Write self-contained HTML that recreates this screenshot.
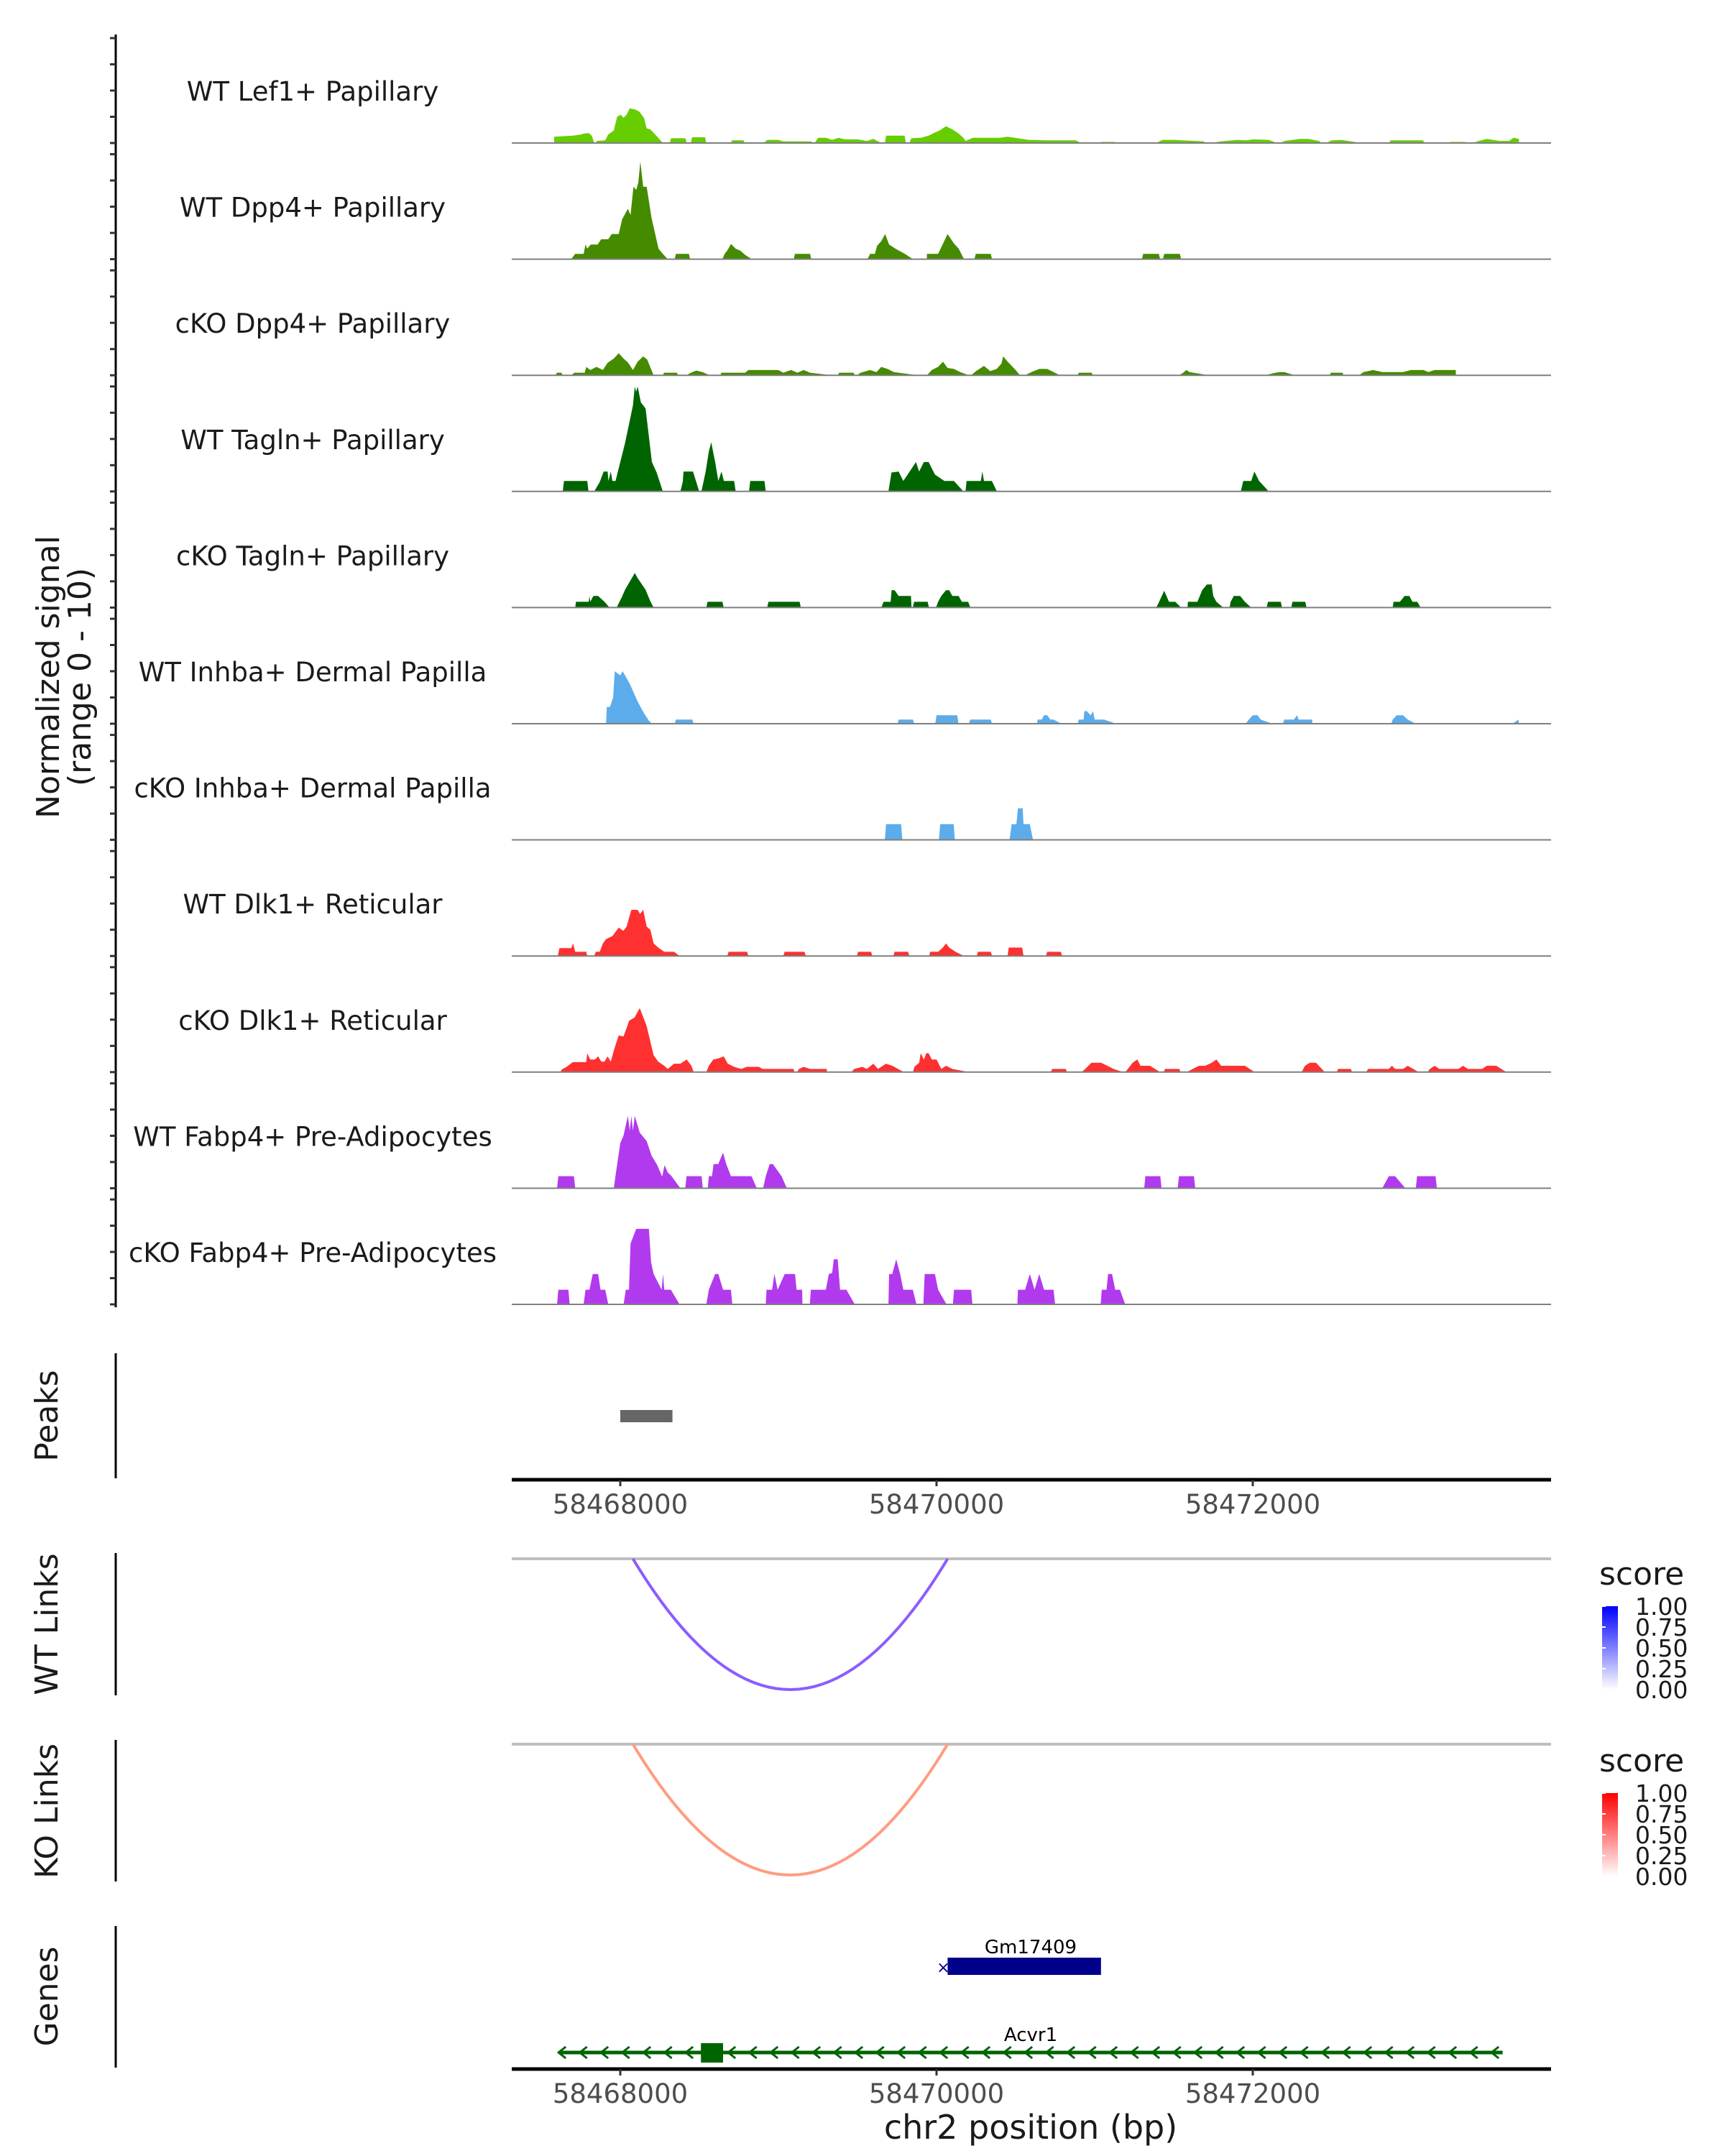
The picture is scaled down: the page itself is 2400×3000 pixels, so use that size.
<!DOCTYPE html>
<html><head><meta charset="utf-8"><style>
html,body{margin:0;padding:0;background:#fff;}
svg{display:block;font-family:"DejaVu Sans","Liberation Sans",sans-serif;}
</style></head><body>
<svg id="chart" width="2400" height="3000" viewBox="0 0 2400 3000" xmlns="http://www.w3.org/2000/svg">
<g id="tracks"></g>
<g id="yaxis"></g>
<text transform="translate(82,942) rotate(-90)" text-anchor="middle" font-size="44" fill="#1a1a1a">Normalized signal</text>
<text transform="translate(126,942) rotate(-90)" text-anchor="middle" font-size="44" fill="#1a1a1a">(range 0 - 10)</text>
<line x1="161" y1="1883" x2="161" y2="2057" stroke="#000" stroke-width="3"/>
<text transform="translate(80,1970) rotate(-90)" text-anchor="middle" font-size="44" fill="#1a1a1a">Peaks</text>
<g id="peaks"></g>
<g id="xaxis1"></g>
<line x1="161" y1="2161" x2="161" y2="2359" stroke="#000" stroke-width="3"/>
<text transform="translate(80,2260) rotate(-90)" text-anchor="middle" font-size="44" fill="#1a1a1a">WT Links</text>
<line x1="161" y1="2421" x2="161" y2="2618" stroke="#000" stroke-width="3"/>
<text transform="translate(80,2520) rotate(-90)" text-anchor="middle" font-size="44" fill="#1a1a1a">KO Links</text>
<g id="links"></g>
<defs>
<linearGradient id="gBlue" x1="0" y1="1" x2="0" y2="0"><stop offset="0" stop-color="#ffffff"/><stop offset="1" stop-color="#0000ff"/></linearGradient>
<linearGradient id="gRed" x1="0" y1="1" x2="0" y2="0"><stop offset="0" stop-color="#ffffff"/><stop offset="1" stop-color="#ff0000"/></linearGradient>
</defs>
<g id="legends"></g>
<line x1="161" y1="2680" x2="161" y2="2877" stroke="#000" stroke-width="3"/>
<text transform="translate(80,2778) rotate(-90)" text-anchor="middle" font-size="44" fill="#1a1a1a">Genes</text>
<g id="genes"></g>
<g id="xaxis2"></g>
<text x="1434" y="2976" text-anchor="middle" font-size="46" fill="#1a1a1a">chr2 position (bp)</text>
</svg>
<script>
// bp offsets relative to 58468000; values in normalized signal (0-10)
const trackNames = ["WT Lef1+ Papillary","WT Dpp4+ Papillary","cKO Dpp4+ Papillary","WT Tagln+ Papillary","cKO Tagln+ Papillary","WT Inhba+ Dermal Papilla","cKO Inhba+ Dermal Papilla","WT Dlk1+ Reticular","cKO Dlk1+ Reticular","WT Fabp4+ Pre-Adipocytes","cKO Fabp4+ Pre-Adipocytes"];
const trackColors = ["#66cd00","#458b00","#458b00","#006400","#006400","#5caceb","#5caceb","#ff3030","#ff3030","#b23aee","#b23aee"];
function blk(a,b,v){return [[a,0],[a+8,v],[b-8,v],[b,0]];}
const track1 = [
 [[-418,0],[-418,0.6],[-300,0.7],[-250,0.8],[-230,0.9],[-200,0.95],[-180,0.7],[-165,0]],
 [[-150,0],[-150,0.2],[-95,0.25],[-77,0.8],[-41,1.2],[-20,2.5],[3,2.7],[20,2.4],[40,2.7],[60,3.3],[92,3.2],[120,3.0],[150,2.4],[167,1.4],[190,1.3],[234,0.6],[269,0]],
 blk(313,420,0.45), blk(446,544,0.55), blk(699,787,0.25),
 [[907,0],[930,0.3],[1000,0.3],[1030,0.15],[1208,0.15],[1215,0]],
 [[1230,0],[1250,0.5],[1300,0.5],[1340,0.3],[1380,0.5],[1420,0.35],[1500,0.35],[1560,0.2],[1600,0.4],[1651,0]],
 blk(1673,1806,0.7),
 [[1828,0],[1840,0.45],[1900,0.5],[1950,0.7],[1990,1.0],[2020,1.2],[2060,1.6],[2100,1.3],[2140,0.9],[2170,0.5],[2183,0.2],[2230,0.5],[2400,0.5],[2450,0.6],[2582,0.3]],
 [[2582,0],[2582,0.3],[2700,0.25],[2880,0.25],[2914,0]],
 blk(3033,3135,0.1), [[3388,0],[3430,0.3],[3500,0.3],[3689,0.15],[3700,0]],
 [[3733,0],[3800,0.15],[3900,0.3],[3960,0.25],[4000,0.35],[4100,0.3],[4154,0]],
 [[4176,0],[4200,0.2],[4300,0.4],[4350,0.4],[4420,0.2],[4430,0]],
 [[4464,0],[4500,0.25],[4560,0.3],[4686,0]],
 blk(4863,5085,0.25), blk(5240,5350,0.1),
 [[5394,0],[5420,0.15],[5480,0.4],[5560,0.2],[5620,0.2],[5650,0.5],[5683,0.4],[5683,0]]
];
const track2 = [
 [[-311,0],[-285,0.5],[-232,0.5],[-220,1.4],[-209,1.0],[-187,1.4],[-143,1.4],[-121,1.9],[-76,1.9],[-54,2.4],[-10,2.4],[12,3.8],[48,4.8],[65,4.2],[83,6.9],[101,6.6],[114,7.3],[127,9.3],[145,6.9],[167,6.9],[198,3.9],[242,1.0],[269,0.5],[300,0]],
 blk(344,442,0.5),
 [[646,0],[660,0.5],[680,0.9],[700,1.45],[730,1.0],[760,0.8],[790,0.4],[832,0]],
 blk(1097,1208,0.5),
 [[1563,0],[1580,0.5],[1610,0.5],[1625,1.3],[1650,1.7],[1675,2.4],[1700,1.4],[1740,1.0],[1800,0.5],[1851,0]],
 [[1939,0],[1939,0.5],[2010,0.5],[2070,2.4],[2110,1.5],[2140,1.0],[2174,0]],
 blk(2240,2351,0.5), blk(3299,3414,0.5), blk(3432,3547,0.5)
];
const track3 = [
 blk(-409,-364,0.25),
 [[-311,0],[-290,0.25],[-225,0.25],[-215,0.8],[-190,0.5],[-150,0.8],[-110,0.5],[-80,1.2],[-40,1.6],[-10,2.1],[20,1.6],[50,1.2],[80,0.5],[110,1.3],[145,1.8],[170,1.5],[211,0]],
 blk(269,366,0.25), [[420,0],[440,0.2],[480,0.45],[520,0.3],[566,0]],
 [[632,0],[640,0.25],[790,0.25],[810,0.5],[1000,0.5],[1031,0.25],[1080,0.5],[1120,0.25],[1160,0.5],[1200,0.25],[1341,0]],
 blk(1376,1483,0.25),
 [[1496,0],[1520,0.25],[1580,0.5],[1620,0.3],[1651,0.8],[1690,0.6],[1730,0.3],[1882,0]],
 [[1939,0],[1970,0.5],[2010,0.8],[2041,1.3],[2070,0.7],[2110,0.6],[2150,0.3],[2205,0]],
 [[2218,0],[2250,0.4],[2300,0.9],[2340,0.4],[2380,0.6],[2410,1.1],[2422,1.8],[2450,1.3],[2500,0.5],[2528,0]],
 [[2559,0],[2600,0.3],[2650,0.6],[2700,0.6],[2740,0.3],[2781,0]],
 blk(2892,2989,0.25), [[3534,0],[3560,0.25],[3580,0.5],[3600,0.3],[3724,0]],
 [[4079,0],[4130,0.2],[4170,0.3],[4200,0.3],[4265,0]],
 blk(4486,4575,0.25),
 [[4672,0],[4700,0.3],[4760,0.5],[4820,0.3],[4950,0.3],[5000,0.5],[5080,0.5],[5110,0.3],[5150,0.5],[5284,0.5],[5284,0]]
];
const track4 = [
 blk(-364,-201,1.0),
 [[-165,0],[-130,0.9],[-105,1.9],[-80,1.9],[-75,1.0],[-60,1.9],[-50,1.0],[-30,1.0],[30,4.6],[80,8.2],[92,10],[100,9.5],[110,10],[130,8.5],[160,7.9],[200,2.8],[230,1.8],[269,0]],
 [[380,0],[395,0.9],[400,1.9],[460,1.9],[499,0]],
 [[513,0],[540,1.9],[560,3.8],[575,4.7],[600,2.8],[620,1.0],[640,1.9],[655,1.0],[720,1.0],[730,0]],
 blk(814,920,1.0),
 [[1696,0],[1715,1.8],[1760,1.9],[1790,1.0],[1830,1.9],[1870,2.8],[1890,1.9],[1920,2.8],[1950,2.8],[1990,1.6],[2050,1.0],[2110,1.0],[2170,0]],
 [[2183,0],[2190,1.0],[2280,1.0],[2290,1.9],[2300,1.0],[2350,1.0],[2382,0]],
 [[3924,0],[3940,1.0],[3990,1.0],[4010,1.9],[4040,1.0],[4101,0]]
];
const track5 = [
 [[-285,0],[-280,0.55],[-200,0.55],[-195,1.1],[-190,0.55],[-170,1.1],[-140,1.1],[-100,0.55],[-68,0]],
 [[-23,0],[10,1.0],[30,1.7],[92,3.3],[110,2.8],[160,1.7],[190,0.6],[211,0]],
 blk(544,654,0.55), blk(929,1142,0.55),
 [[1651,0],[1665,0.55],[1710,0.55],[1716,1.65],[1735,1.65],[1760,1.1],[1838,1.1],[1842,0]],
 blk(1850,1952,0.55),
 [[1997,0],[2010,0.55],[2030,1.1],[2060,1.65],[2080,1.65],[2100,1.1],[2140,1.1],[2160,0.55],[2200,0.55],[2214,0]],
 [[3388,0],[3400,0.3],[3440,1.6],[3470,0.55],[3510,0.55],[3547,0]],
 [[3587,0],[3590,0.55],[3650,0.55],[3680,1.65],[3710,2.2],[3740,2.2],[3750,1.1],[3770,0.55],[3813,0]],
 [[3853,0],[3860,0.55],[3880,1.1],[3920,1.1],[3950,0.55],[3990,0]],
 blk(4088,4185,0.55), blk(4243,4340,0.55),
 [[4885,0],[4890,0.55],[4930,0.55],[4960,1.1],[4990,1.1],[5010,0.55],[5040,0.55],[5062,0]]
];
const track6 = [
 [[-90,0],[-85,1.6],[-65,1.6],[-45,2.5],[-35,5.0],[0,4.6],[15,5.0],[30,4.6],[60,3.8],[110,2.1],[150,1.0],[180,0.3],[200,0]],
 blk(344,464,0.4), blk(1753,1859,0.4), blk(1992,2139,0.8), blk(2205,2351,0.4),
 [[2635,0],[2640,0.4],[2665,0.4],[2680,0.8],[2700,0.8],[2720,0.4],[2740,0.4],[2790,0]],
 [[2892,0],[2900,0.4],[2930,0.4],[2935,1.2],[2950,1.2],[2975,0.8],[2990,1.2],[3000,0.4],[3060,0.4],[3135,0]],
 [[3955,0],[3975,0.4],[4000,0.8],[4030,0.8],[4050,0.4],[4123,0]],
 [[4190,0],[4200,0.4],[4260,0.4],[4280,0.8],[4290,0.4],[4376,0.4],[4376,0]],
 [[4876,0],[4885,0.4],[4910,0.8],[4950,0.8],[4980,0.4],[5031,0]],
 [[5643,0],[5680,0.4],[5683,0]]
];
const track7 = [
 blk(1673,1784,1.5), blk(2015,2116,1.5),
 [[2462,0],[2475,1.5],[2505,1.5],[2515,3.0],[2545,3.0],[2550,1.5],[2590,1.5],[2610,0]]
];
const track8 = [
 [[-395,0],[-385,0.75],[-310,0.75],[-298,1.2],[-285,0.4],[-215,0.4],[-209,0]],
 [[-165,0],[-155,0.4],[-130,0.4],[-110,1.2],[-90,1.6],[-50,1.9],[-20,2.5],[-10,2.7],[20,2.4],[40,2.8],[70,4.4],[110,4.4],[125,4.0],[145,4.4],[167,2.8],[190,2.5],[211,1.2],[240,0.8],[278,0.4],[340,0.4],[375,0]],
 blk(677,810,0.4), blk(1031,1173,0.4), blk(1496,1594,0.4), blk(1727,1828,0.4),
 [[1953,0],[1960,0.4],[2010,0.4],[2040,0.8],[2060,1.2],[2080,0.8],[2120,0.4],[2174,0]],
 blk(2254,2351,0.4), blk(2449,2550,0.8), blk(2692,2794,0.4)
];
const track9 = [
 [[-378,0],[-370,0.25],[-340,0.5],[-300,0.95],[-215,0.95],[-209,1.8],[-190,1.2],[-160,1.2],[-140,1.5],[-120,1.0],[-100,1.0],[-80,1.5],[-60,1.0],[-40,2.1],[-10,3.5],[20,3.4],[40,4.2],[56,4.9],[90,5.2],[123,6.1],[167,4.4],[211,1.6],[240,1.0],[278,0.6],[300,0.3],[340,0.8],[380,0.8],[420,1.2],[450,0.6],[464,0],[544,0],[560,0.6],[588,1.2],[620,1.3],[654,1.5],[680,0.8],[720,0.5],[765,0.3],[800,0.5],[876,0.5],[900,0.3],[1097,0.3],[1100,0]],
 [[1119,0],[1130,0.3],[1160,0.5],[1200,0.3],[1306,0.3],[1306,0]],
 [[1461,0],[1480,0.3],[1530,0.5],[1560,0.3],[1600,0.8],[1630,0.3],[1680,0.8],[1720,0.6],[1793,0]],
 [[1851,0],[1860,0.5],[1890,0.9],[1900,1.8],[1920,1.2],[1935,1.8],[1950,1.8],[1970,1.2],[2000,1.2],[2030,0.3],[2060,0.6],[2100,0.3],[2205,0]],
 blk(2723,2825,0.3),
 [[2918,0],[2940,0.3],[2980,0.9],[3040,0.9],[3080,0.6],[3120,0.3],[3180,0]],
 [[3193,0],[3210,0.3],[3240,0.9],[3270,1.2],[3290,0.6],[3350,0.6],[3414,0]],
 blk(3437,3543,0.3),
 [[3583,0],[3620,0.3],[3660,0.6],[3700,0.6],[3740,0.9],[3770,1.2],[3800,0.6],[3850,0.6],[3900,0.6],[3950,0.6],[4012,0]],
 [[4309,0],[4330,0.6],[4360,0.9],[4400,0.9],[4455,0]],
 blk(4531,4628,0.3),
 [[4717,0],[4730,0.3],[4860,0.3],[4880,0.6],[4900,0.3],[4950,0.3],[4980,0.6],[5049,0]],
 [[5106,0],[5120,0.3],[5150,0.6],[5180,0.3],[5300,0.3],[5330,0.6],[5360,0.3],[5450,0.3],[5480,0.6],[5540,0.6],[5603,0]]
];
const track10 = [
 blk(-400,-285,1.15),
 [[-41,0],[-30,1.2],[0,4.3],[20,5.0],[48,6.9],[60,5.5],[70,6.9],[80,5.5],[92,6.9],[123,5.3],[167,4.5],[198,3.1],[234,2.2],[265,1.1],[280,2.2],[300,1.5],[322,1.2],[380,0]],
 blk(411,522,1.15),
 [[553,0],[560,1.15],[580,1.15],[590,2.3],[620,2.3],[650,3.4],[670,2.3],[700,1.15],[830,1.15],[863,0]],
 [[903,0],[920,1.15],[945,2.3],[965,2.3],[1020,1.15],[1053,0]],
 blk(3313,3423,1.15), blk(3525,3636,1.15),
 [[4819,0],[4860,1.15],[4900,1.15],[4965,0]],
 blk(5031,5164,1.15)
];
const track11 = [
 blk(-400,-320,1.4),
 [[-232,0],[-220,1.4],[-195,1.4],[-174,2.9],[-140,2.9],[-125,1.4],[-95,1.4],[-76,0]],
 [[21,0],[35,1.4],[55,1.4],[65,5.8],[101,7.2],[181,7.2],[195,4.0],[211,2.9],[262,1.4],[270,2.9],[278,1.4],[320,1.4],[375,0]],
 [[544,0],[560,1.4],[600,2.9],[620,2.9],[650,1.4],[700,1.4],[708,0]],
 [[920,0],[925,1.4],[960,1.4],[975,2.9],[995,1.4],[1040,2.9],[1105,2.9],[1115,1.4],[1150,1.4],[1152,0]],
 [[1199,0],[1205,1.4],[1300,1.4],[1319,2.9],[1340,3.0],[1350,4.3],[1375,4.3],[1390,1.4],[1430,1.4],[1483,0]],
 [[1696,0],[1700,2.9],[1720,2.9],[1745,4.3],[1770,2.9],[1790,1.4],[1850,1.4],[1873,0]],
 [[1917,0],[1925,2.9],[1990,2.9],[2010,1.4],[2063,0]],
 blk(2103,2227,1.4),
 [[2511,0],[2515,1.4],[2560,1.4],[2590,2.9],[2620,1.4],[2650,2.9],[2680,1.4],[2740,1.4],[2750,0]],
 [[3038,0],[3045,1.4],[3075,1.4],[3085,2.9],[3110,2.9],[3130,1.4],[3160,1.4],[3193,0]]
];
const trackData = [track1,track2,track3,track4,track5,track6,track7,track8,track9,track10,track11];
const xTicks = [58468000, 58470000, 58472000];
const peakRegions = [[58468000, 58468330]];
const linkStarts = [58468080];
const linkEnds = [58470070];
const linkScores = [0.55];
const legendTicks = ["1.00","0.75","0.50","0.25","0.00"];
const geneGm = [58470070, 58471040];
const geneAcvr1 = [58467610, 58473580];
const acvr1Exons = [[58468510, 58468650]];

const NS='http://www.w3.org/2000/svg';
function mk(tag, attrs, parent){const e=document.createElementNS(NS,tag);for(const k in attrs)e.setAttribute(k,attrs[k]);parent.appendChild(e);return e;}
const X = bp => 863 + (bp - 58468000) * 0.22;
const XO = off => 863 + off * 0.22;
const X0 = 712, X1 = 2158;
const PANEL_H = 146, STEP = 161.6, BASE0 = 199;
const yVal = (base, v) => base - v / 10 * PANEL_H;

const gT = document.getElementById('tracks');
trackData.forEach((segs, i) => {
  const base = BASE0 + i * STEP;
  const g = mk('g', {}, gT);
  
  
  const lab = mk('text', {x:435, y:base-59, 'text-anchor':'middle', 'font-size':37, fill:'#1a1a1a'}, g);
  lab.textContent = trackNames[i];
  
  
  segs.forEach(seg => {
    let d = 'M' + XO(seg[0][0]).toFixed(1) + ',' + base;
    seg.forEach(p => { d += 'L' + XO(p[0]).toFixed(1) + ',' + yVal(base, p[1]).toFixed(1); });
    d += 'L' + XO(seg[seg.length-1][0]).toFixed(1) + ',' + base + 'Z';
    const p = mk('path', {d:d, fill:trackColors[i]}, g);
    
    
  });
  const bl = mk('line', {x1:X0, x2:X1, y1:base, y2:base, stroke:'#7f7f7f', 'stroke-width':2}, g);
  
  
});

const gY = document.getElementById('yaxis');
const ax = mk('line', {x1:161, x2:161, y1:48, y2:1819, stroke:'#000', 'stroke-width':3}, gY);


for (let i = 0; i < 11; i++) {
  const base = BASE0 + i * STEP;
  for (let k = 0; k <= 4; k++) {
    const y = base - k * PANEL_H / 4;
    const t = mk('line', {x1:153, x2:161, y1:y, y2:y, stroke:'#333', 'stroke-width':3}, gY);
    
    
  }
}

const gP = document.getElementById('peaks');
peakRegions.forEach(r => {
  const rc = mk('rect', {x:X(r[0]), y:1962, width:X(r[1])-X(r[0]), height:17, fill:'#666666'}, gP);
  
  
});

function xAxis(gid, y) {
  const g = document.getElementById(gid);
  const l = mk('line', {x1:X0, x2:X1, y1:y, y2:y, stroke:'#000', 'stroke-width':5}, g);
  
  
  xTicks.forEach(t => {
    const tk = mk('line', {x1:X(t), x2:X(t), y1:y, y2:y+9, stroke:'#333', 'stroke-width':3}, g);
    
    
    const tx = mk('text', {x:X(t), y:y+47, 'text-anchor':'middle', 'font-size':37, fill:'#4d4d4d'}, g);
    tx.textContent = String(t);
    
    
  });
}
xAxis('xaxis1', 2059);
xAxis('xaxis2', 2879);

const gL = document.getElementById('links');
[[2169,'#8c5cff','wt'],[2427,'#ff9c82','ko']].forEach(([base,col,nm]) => {
  const bl = mk('line', {x1:X0, x2:X1, y1:base, y2:base, stroke:'#bebebe', 'stroke-width':4}, gL);
  
  
  linkStarts.forEach((s, i) => {
    const xa = X(s), xb = X(linkEnds[i]);
    const depth = 182 * 2;
    const d = 'M' + xa + ',' + base + ' Q' + ((xa+xb)/2) + ',' + (base+depth) + ' ' + xb + ',' + base;
    const p = mk('path', {d:d, fill:'none', stroke:col, 'stroke-width':4}, gL);
    
    
  });
});

const gLg = document.getElementById('legends');
[[2205,'url(#gBlue)','wt'],[2465,'url(#gRed)','ko']].forEach(([ty,grad,nm]) => {
  const t = mk('text', {x:2225, y:ty, 'font-size':44, fill:'#1a1a1a'}, gLg);
  t.textContent = 'score';
  
  
  const top = ty + 30;
  const r = mk('rect', {x:2229, y:top, width:22, height:116, fill:grad}, gLg);
  
  
  legendTicks.forEach((lbl, k) => {
    const y = top + k * 29;
    const tk = mk('line', {x1:2229, x2:2234, y1:y, y2:y, stroke:'#fff', 'stroke-width':2}, gLg);
    
    
    const tx = mk('text', {x:2275, y:y+12, 'font-size':33, fill:'#1a1a1a'}, gLg);
    tx.textContent = lbl;
    
    
  });
});

const gG = document.getElementById('genes');
const gm = mk('rect', {x:X(geneGm[0]), y:2724, width:X(geneGm[1])-X(geneGm[0]), height:24, fill:'#00008b'}, gG);


const gmx = mk('text', {x:X(geneGm[0])-6, y:2745, 'font-size':22, fill:'#00008b', 'text-anchor':'middle'}, gG);
gmx.textContent = '×';


const gml = mk('text', {x:1434, y:2718, 'text-anchor':'middle', 'font-size':26, fill:'#000'}, gG);
gml.textContent = 'Gm17409';


const ac = mk('line', {x1:X(geneAcvr1[0]), x2:X(geneAcvr1[1]), y1:2856, y2:2856, stroke:'#006400', 'stroke-width':5}, gG);


for (let x = X(geneAcvr1[0]); x < X(geneAcvr1[1]) - 10; x += 29.5) {
  const ch = mk('path', {d:'M'+(x+10)+',2848 L'+x+',2856 L'+(x+10)+',2864', fill:'none', stroke:'#006400', 'stroke-width':3}, gG);
  
  
}
acvr1Exons.forEach(e => {
  const ex = mk('rect', {x:X(e[0]), y:2843, width:X(e[1])-X(e[0]), height:27, fill:'#006400'}, gG);
  
  
});
const al = mk('text', {x:1434, y:2840, 'text-anchor':'middle', 'font-size':26, fill:'#000'}, gG);
al.textContent = 'Acvr1';


</script>
</body></html>
